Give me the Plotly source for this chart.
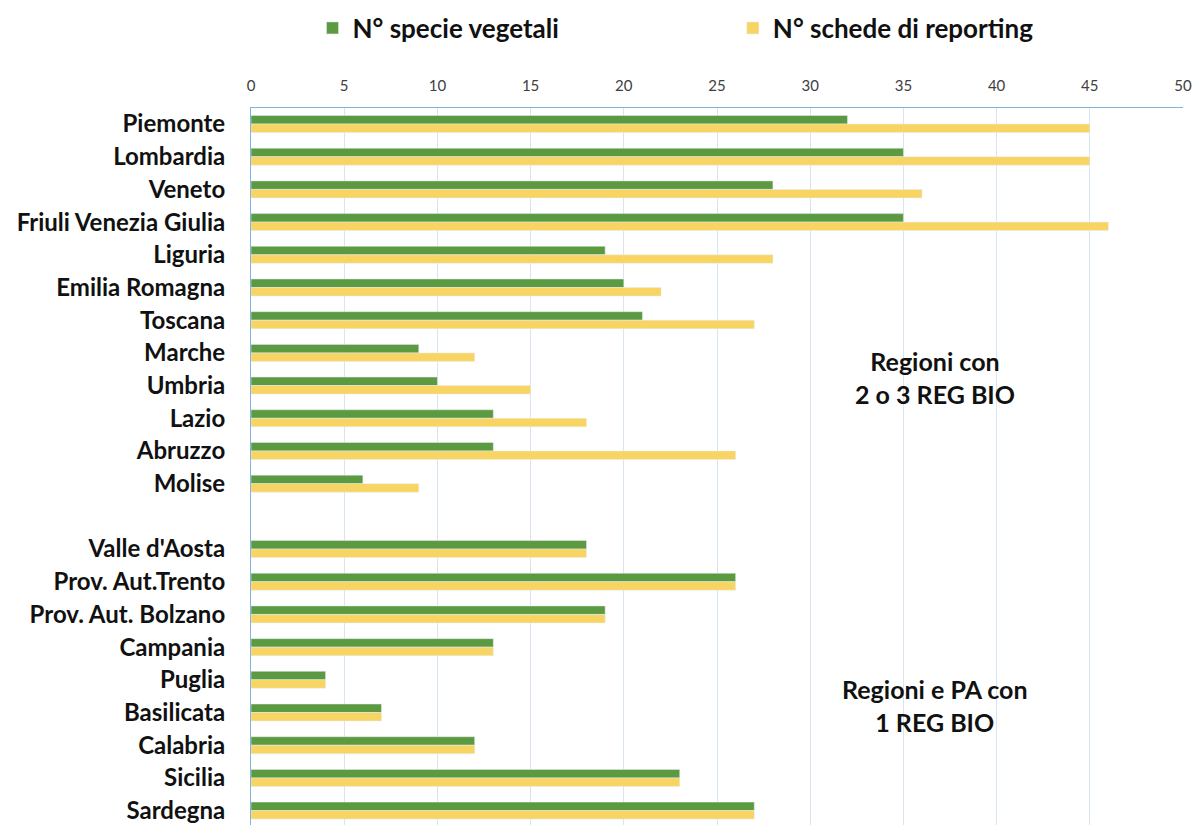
"""Specie vegetali e schede di reporting per regione."""

import plotly.graph_objects as go

# dati (la categoria vuota separa i due gruppi)
regioni = [
    "Piemonte", "Lombardia", "Veneto", "Friuli Venezia Giulia", "Liguria",
    "Emilia Romagna", "Toscana", "Marche", "Umbria", "Lazio", "Abruzzo",
    "Molise", " ", "Valle d'Aosta", "Prov. Aut.Trento", "Prov. Aut. Bolzano",
    "Campania", "Puglia", "Basilicata", "Calabria", "Sicilia", "Sardegna",
]
specie_vegetali = [32, 35, 28, 35, 19, 20, 21, 9, 10, 13, 13, 6,
                   None, 18, 26, 19, 13, 4, 7, 12, 23, 27]
schede_reporting = [45, 45, 36, 46, 28, 22, 27, 12, 15, 18, 26, 9,
                    None, 18, 26, 19, 13, 4, 7, 12, 23, 27]
x_ticks = [0, 5, 10, 15, 20, 25, 30, 35, 40, 45, 50]

GREEN = "#5b9a41"
YELLOW = "#f8d562"
GRID = "#d9e6f2"
BORDER = "#82b2de"
FONT = "Lato"

fig = go.Figure()
fig.add_trace(go.Bar(
    y=regioni, x=specie_vegetali, orientation="h",
    name="N° specie vegetali", marker_color=GREEN, legend="legend",
))
fig.add_trace(go.Bar(
    y=regioni, x=schede_reporting, orientation="h",
    name="N° schede di reporting", marker_color=YELLOW, legend="legend2",
))

legend_font = dict(size=26, family=FONT, weight="bold", color="#111111")

# la pagina ha un margine di 8px: figura un po' più piccola
fig.update_layout(
    width=1195, height=817,
    margin=dict(l=243, r=20, t=100, b=0, autoexpand=False),
    paper_bgcolor="white", plot_bgcolor="white",
    showlegend=True,
    barmode="group", bargap=0.48, bargroupgap=0,
    font=dict(family=FONT, color="#111111"),
    legend=dict(x=0.066, y=1.1116, xanchor="left", yanchor="middle",
                font=legend_font, itemwidth=30),
    legend2=dict(x=0.517, y=1.1116, xanchor="left", yanchor="middle",
                 font=legend_font, itemwidth=30),
    xaxis=dict(
        side="top", range=[0, 50], tickvals=x_ticks,
        showgrid=True, gridcolor=GRID, gridwidth=1,
        showline=True, linecolor=BORDER, mirror=True,
        ticks="", ticklabelstandoff=10, ticklabeloverflow="allow",
        tickfont=dict(size=15, color="#404040"),
        zeroline=False,
    ),
    yaxis=dict(
        type="category", range=[21.44, -0.49],
        showline=True, linecolor=BORDER,
        ticks="", ticklabelstandoff=20,
        tickfont=dict(size=24, color="#111111", family=FONT, weight="bold"),
    ),
)

for testo, yy in [("Regioni con<br>2 o 3 REG BIO", 7.74),
                  ("Regioni e PA con<br>1 REG BIO", 17.8)]:
    fig.add_annotation(
        x=36.7, y=yy, xref="x", yref="y", text=testo, showarrow=False,
        font=dict(size=25, family=FONT, weight="bold", color="#111111"),
        align="center",
    )

fig.write_html("out.html")
